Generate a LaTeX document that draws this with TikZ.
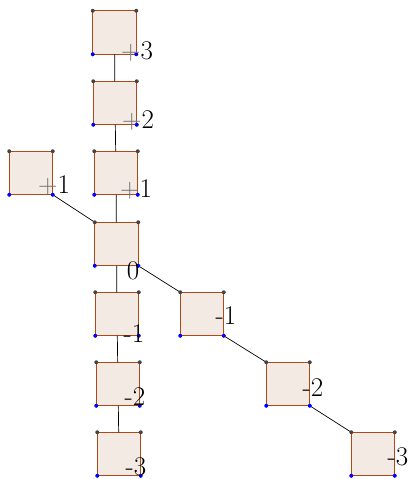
\documentclass[tikz,border=0pt]{standalone}
\usepackage{tikz}
\usetikzlibrary{positioning}
\definecolor{ruskea}{RGB}{176,72,24}
\definecolor{vaalea}{RGB}{244,234,228}
\definecolor{tumma}{RGB}{68,68,68}
\newcommand{\plusmerkki}{\textcolor{black!55}{+}}
\begin{document}
\begin{tikzpicture} [x=1pt, y=-1pt, thick,
                    ruutu/.style={rectangle,draw=ruskea,fill=vaalea,line width=1pt,
                                  minimum size=43.5pt,inner sep=0pt,outer sep=0pt},
                    merkki/.style={inner sep=0pt,font=\fontsize{27}{32}\selectfont}]
\useasboundingbox (0,0) rectangle (410,479);

\node[ruutu] (p3) at (114.5,32.5) {};
\node[ruutu] (p2) at (115,103) {};
\node[ruutu] (p1) at (116,173) {};
\node[ruutu] (q1) at (31,173) {};
\node[ruutu] (z0) at (116.5,244) {};
\node[ruutu] (m1) at (117,314) {};
\node[ruutu] (m2) at (118,384) {};
\node[ruutu] (m3) at (119,454) {};
\node[ruutu] (d1) at (202,314) {};
\node[ruutu] (d2) at (288,384) {};
\node[ruutu] (d3) at (373,454) {};

 \path[draw=black,line width=0.7pt]
    (p3) -- (p2)
    (p2) -- (p1)
    (p1) -- (z0)
    (z0) -- (m1)
    (m1) -- (m2)
    (m2) -- (m3)
    (q1.south east) -- (z0.north west)
    (z0.south east) -- (d1.north west)
    (d1.south east) -- (d2.north west)
    (d2.south east) -- (d3.north west);

\foreach \n in {p3,p2,p1,q1,z0,m1,m2,m3,d1,d2,d3} {
    \fill[tumma] (\n.north west) circle (2pt);
    \fill[tumma] (\n.north east) circle (2pt);
    \fill[blue] (\n.south west) circle (2pt);
    \fill[blue] (\n.south east) circle (2pt);
}

\node[merkki] (lp3) at (137,51) {\plusmerkki3};
\node[merkki] (lp2) at (138,120) {\plusmerkki2};
\node[merkki] (lp1) at (136,189) {\plusmerkki1};
\node[merkki] (lq1) at (54,185) {\plusmerkki1};
\node[merkki] (lz0) at (133,271) {0};
\node[merkki] (lm1) at (134,334) {-1};
\node[merkki] (lm2) at (135,397) {-2};
\node[merkki] (lm3) at (136,467) {-3};
\node[merkki] (ld1) at (226,316) {-1};
\node[merkki] (ld2) at (313,388) {-2};
\node[merkki] (ld3) at (398,457) {-3};
\end{tikzpicture}
\end{document}
